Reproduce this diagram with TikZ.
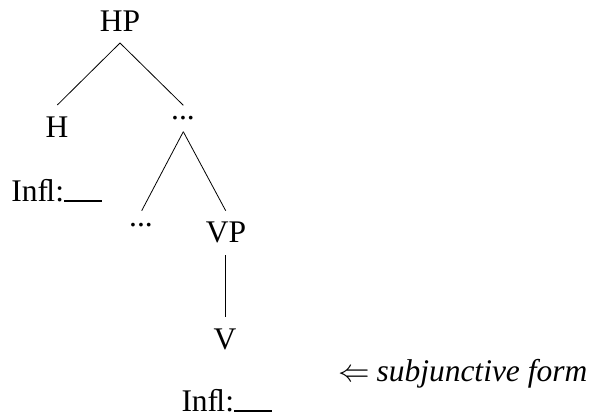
\RequirePackage{fix-cm}
\documentclass[tikz,border=0pt]{standalone}
\usepackage{fontspec}
\setmainfont{Liberation Serif}
\usetikzlibrary{calc}
\begin{document}
\begin{tikzpicture}[x=1pt,y=-1pt,
  lbl/.style={inner sep=0pt,outer sep=0pt,anchor=base,font=\fontsize{31.5}{36}\selectfont},
  lblw/.style={lbl,anchor=base west},
  branch/.style={line width=0.8pt}]
\useasboundingbox (0,0) rectangle (595,417);
\newcommand{\blank}{\rule[-0.5pt]{38pt}{1.8pt}}
\node[lbl] (HP) at (120,32) {HP};
\node[lbl] (H) at (57,138) {H};
\node[lbl] (d1) at (183,120) {...};
\node[lblw] (infl1) at (11.5,201.5) {Inﬂ:\blank};
\node[lbl] (d2) at (141,227) {...};
\node[lbl] (VP) at (226,243) {VP};
\node[lbl] (V) at (225,349) {V};
\node[lblw] (subj) at (338,381.5) {$\Leftarrow$\hspace{7pt}\textit{subjunctive form}};
\node[lblw] (infl2) at (181.5,411.5) {Inﬂ:\blank};
\draw[branch] ($(HP.base)+(0,11)$) -- ($(H.base)+(0.3,-33)$);
\draw[branch] ($(HP.base)+(0,11)$) -- ($(d1.base)+(0.3,-14.7)$);
\draw[branch] ($(d1.base)+(0.3,11.7)$) -- ($(d2.base)+(0.7,-16.3)$);
\draw[branch] ($(d1.base)+(0.3,11.7)$) -- ($(VP.base)+(-0.3,-32.3)$);
\draw[branch] ($(VP.base)+(-0.7,12)$) -- ($(V.base)+(0.3,-32.3)$);
\end{tikzpicture}
\end{document}
